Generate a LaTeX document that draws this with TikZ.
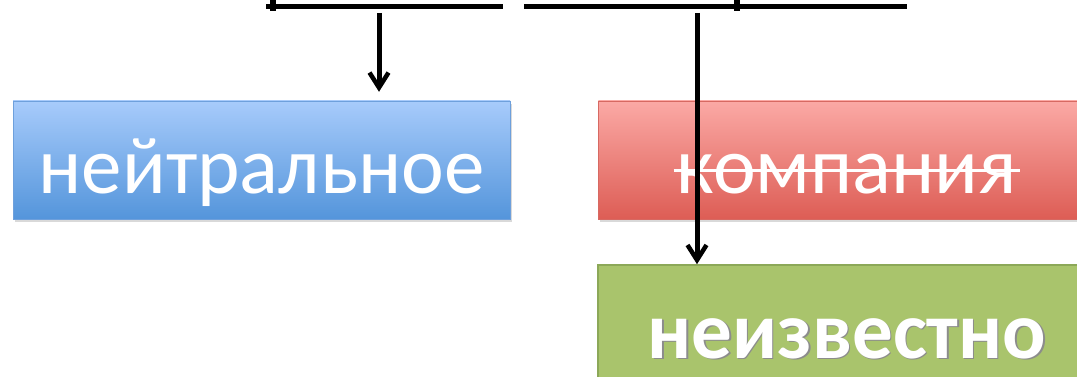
\documentclass[tikz,border=0pt]{standalone}
\usepackage{fontspec}
\setmainfont{Carlito}
\usetikzlibrary{arrows.meta,positioning,shadows}

\definecolor{blueTop}{RGB}{167,203,251}
\definecolor{blueBot}{RGB}{84,149,219}
\definecolor{blueLine}{RGB}{110,160,220}
\definecolor{redTop}{RGB}{251,169,165}
\definecolor{redBot}{RGB}{221,93,85}
\definecolor{redLine}{RGB}{215,105,98}
\definecolor{greenFill}{RGB}{169,196,108}
\definecolor{greenLine}{RGB}{140,168,88}

% struck-out text
\newsavebox\strikebox
\newcommand{\strikeword}[1]{\sbox\strikebox{#1}\rlap{\kern-3pt\rule[0.58ex]{\dimexpr\wd\strikebox+6pt\relax}{3pt}}\usebox\strikebox}
% text with a soft dark shadow
\newcommand{\shadowword}[1]{\rlap{\kern1.5pt\raisebox{-1.5pt}{\color{black!45}#1}}#1}

\begin{document}
\begin{tikzpicture}
[x=1pt, y=1pt, node distance = 45pt,
% STYLES
% The box style is used for the three coloured labels
box/.style={rectangle, inner sep=0pt, minimum width=497pt, minimum height=118pt, text height=68pt, text depth=0pt, text=white, font=\fontsize{81}{90}\selectfont, drop shadow={shadow xshift=1.5pt, shadow yshift=-3pt, opacity=0.3}},
% The bar style is used for the lines at the top
bar/.style={line width=5pt},
% The link style is used for the arrows
link/.style={-{Straight Barb[length=15pt, width=19pt, line width=4.5pt]}, line width=5pt}]

\useasboundingbox (0,0) rectangle (1077,377);

% Draw boxes
\node [box, draw=blueLine, top color=blueTop, bottom color=blueBot] (neutral) at (261.5,217) {нейтральное};
\node [box, draw=redLine, top color=redTop, bottom color=redBot, right=88pt of neutral] (company) {\strikeword{компания}};
\node [box, draw=greenLine, line width=2pt, fill=greenFill, minimum height=115pt, text height=71pt, font=\fontsize{81}{90}\selectfont\bfseries, below=of company] (unknown) {\shadowword{неизвестно}};

% Top lines
\draw [bar] (266,370) -- (503,370);
\draw [bar] (524,370) -- (907,370);
\draw [line width=6pt] (273,377) -- (273,366);
\draw [line width=6pt] (737,377) -- (737,366);

% Draw the links
\coordinate (from-neutral) at (379,364);
\coordinate (from-unknown) at (697,364);
\draw [link, shorten >=9pt] (from-neutral) -- (from-neutral |- neutral.north);
\draw [link] (from-unknown) -- (from-unknown |- unknown.north);

\end{tikzpicture}
\end{document}
